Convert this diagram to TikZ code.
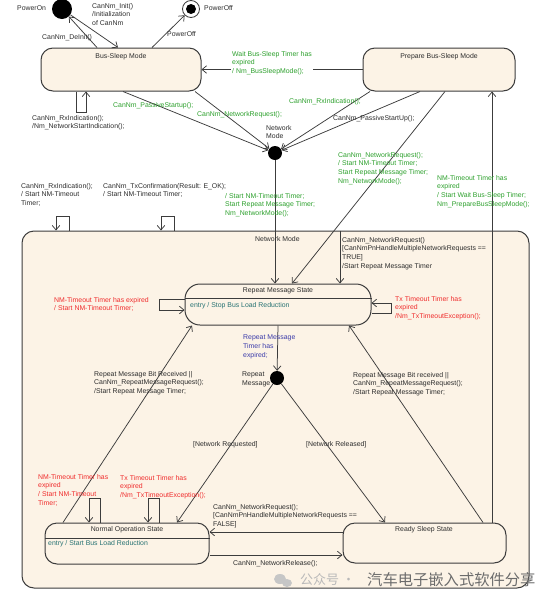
\documentclass[tikz,border=0pt]{standalone}
\usepackage{fontspec}
\setmainfont{Liberation Sans}
\newfontfamily\cjkfont{Noto Sans CJK SC}
\usetikzlibrary{arrows.meta}
\definecolor{gtext}{RGB}{45,160,45}
\definecolor{rtext}{RGB}{240,45,45}
\definecolor{btext}{RGB}{60,60,170}
\definecolor{ttext}{RGB}{40,115,115}
\definecolor{ktext}{RGB}{45,45,45}
\definecolor{boxfill}{RGB}{252,243,230}
\definecolor{lcol}{RGB}{60,60,60}
\tikzset{
  txt/.style={font=\fontsize{6.9}{8.7}\selectfont, text=ktext, inner sep=0pt},
  lbl/.style={txt, align=left, anchor=north west},
  slbl/.style={txt, anchor=west},
  green/.style={text=gtext},
  red/.style={text=rtext},
  blue/.style={text=btext},
  statebox/.style={draw=lcol, line width=1pt, fill=boxfill, rounded corners=12pt, inner sep=0pt},
  conn/.style={draw=lcol, line width=0.75pt, -{Straight Barb[length=4.5pt,width=7.5pt]}},
  junction/.style={circle, fill=black, inner sep=0pt, minimum size=14pt},
}
\begin{document}
\begin{tikzpicture}[x=1pt,y=-1pt]
\useasboundingbox (0,0) rectangle (554,603);
% Network Mode composite
\node[statebox, minimum width=507pt, minimum height=357pt] (nmb) at (275.5,409.5) {};
% states
\node[statebox, minimum width=160pt, minimum height=43pt] (bs) at (121,69.5) {};
\node[statebox, minimum width=152pt, minimum height=43pt] (pbs) at (439,69.5) {};
\node[statebox, rounded corners=15pt, minimum width=186pt, minimum height=41pt] (rms) at (278,304.5) {};
\node[statebox, minimum width=164pt, minimum height=41pt] (nos) at (127,543.5) {};
\node[statebox, minimum width=163pt, minimum height=40pt] (rss) at (424.5,543) {};
\draw[lcol, line width=1pt] ([yshift=6.5pt]rms.west) -- ([yshift=6.5pt]rms.east);
\draw[lcol, line width=1pt] ([yshift=5.5pt]nos.west) -- ([yshift=5.5pt]nos.east);
% pseudo states
\node[circle, fill=black, inner sep=0pt, minimum size=20pt] (po) at (62,9) {};
\node[circle, draw=lcol, line width=0.8pt, fill=white, inner sep=0pt, minimum size=17pt] (pf) at (191,9) {};
\node[circle, fill=black, inner sep=0pt, minimum size=10pt] (pfi) at (pf) {};
\node[junction] (nm) at (275,153) {};
\node[junction] (rj) at (277,378) {};
% connectors top
\draw[conn] (po) -- ([xshift=-3pt]bs.north);
\draw[conn] ([xshift=-24pt]bs.north) -- (po);
\draw[conn] ([xshift=31pt]bs.north) -- (pf);
\draw[conn] (pbs.west) -- (bs.east);
\draw[conn] ([xshift=-45pt]bs.south) -- ++(0,21) -| ([xshift=-35pt]bs.south);
\draw[conn] ([xshift=2pt]bs.south) -- (nm);
\draw[conn] ([xshift=74pt]bs.south) -- (nm);
\draw[conn] ([xshift=-69pt]pbs.south) -- (nm);
\draw[conn] ([xshift=-19pt]pbs.south) -- (nm);
\draw[conn] ([xshift=6pt]pbs.south) -- ([xshift=14pt]rms.north);
\draw[conn] (nm) -- (nm |- rms.north);
\draw[conn] ([xshift=67.5pt]rss.north) -- ([xshift=53pt]pbs.south);
% loops on Network Mode
\draw[conn] ([xshift=-206.5pt]nmb.north) -- ++(0,-14) -| ([xshift=-219.5pt]nmb.north);
\draw[conn] ([xshift=-101.5pt]nmb.north) -- ++(0,-14) -| ([xshift=-114.5pt]nmb.north);
\draw[conn] ([xshift=64.5pt]nmb.north) -- ([xshift=62pt]rms.north);
% loops on Repeat Message State
\draw[conn] ([yshift=5.5pt]rms.west) -- ++(-25,0) |- ([yshift=-5.5pt]rms.west);
\draw[conn] ([yshift=-8.5pt]rms.east) -- ++(20,0) |- ([yshift=1.5pt]rms.east);
\draw[conn] (rms.south) -- (rj);
\draw[conn] (rj) -- ([xshift=50pt]nos.north);
\draw[conn] (rj) -- ([xshift=-39.5pt]rss.north);
\draw[conn] ([xshift=-64pt]nos.north) -- ([xshift=-86pt]rms.south);
\draw[conn] ([xshift=58.5pt]rss.north) -- ([xshift=71pt]rms.south);
% loops on Normal Operation
\draw[conn] ([xshift=-27pt]nos.north) -- ++(0,-24) -| ([xshift=-38pt]nos.north);
\draw[conn] ([xshift=32pt]nos.north) -- ++(0,-24) -| ([xshift=21pt]nos.north);
\draw[conn] ([yshift=11pt]rss.west) -- ([yshift=11.5pt]nos.east);
\draw[conn] ([yshift=-11.5pt]nos.east) -- ([yshift=-12pt]rss.west);
% state titles
\node[txt] (tbs) at (121,57) {Bus-Sleep Mode};
\node[txt] (tpbs) at (439,57) {Prepare Bus-Sleep Mode};
\node[txt] (trms) at (278,291) {Repeat Message State};
\node[txt, text=ttext, anchor=west] (erms) at (190,306) {entry / Stop Bus Load Reduction};
\node[txt] (tnos) at (127,530) {Normal Operation State};
\node[txt, text=ttext, anchor=west] (enos) at (48,544) {entry / Start Bus Load Reduction};
\node[txt] (trss) at (424,530) {Ready Sleep State};
\node[slbl] (tnmb) at (255,239) {Network Mode};
% labels
\node[slbl] (lpo) at (17,8) {PowerOn};
\node[slbl] (lpf) at (204,8) {PowerOff};
\node[lbl] (linit) at (92,3) {CanNm\_Init()\\/Initialization\\of CanNm};
\node[slbl] (ldeinit) at (42,38) {CanNm\_DeInit()};
\node[slbl] (lpoff) at (167,34) {PowerOff};
\node[lbl, green, fill=white, inner sep=1pt] (lwait) at (231,50) {Wait Bus-Sleep Timer has\\expired\\/ Nm\_BusSleepMode();};
\node[lbl] (lbsloop) at (32,115) {CanNm\_RxIndication();\\/Nm\_NetworkStartIndication();};
\node[slbl, green] (lpass) at (113,106) {CanNm\_PassiveStartup();};
\node[slbl, green] (lnreq) at (197,115) {CanNm\_NetworkRequest();};
\node[slbl, green] (lrxi) at (289,102) {CanNm\_RxIndication();};
\node[slbl] (lpassup) at (333,119) {CanNm\_PassiveStartUp();};
\node[lbl] (lnm) at (266,125) {Network\\Mode};
\node[lbl, green] (lpbsrms) at (338,152) {CanNm\_NetworkRequest();\\/ Start NM-Timeout Timer;\\Start Repeat Message Timer;\\Nm\_NetworkMode();};
\node[lbl, green] (lnmrms) at (225,193) {/ Start NM-Timeout Timer;\\Start Repeat Message Timer;\\Nm\_NetworkMode();};
\node[lbl, green] (lnmt) at (437,175) {NM-Timeout Timer has\\expired\\/ Start Wait Bus-Sleep Timer;\\Nm\_PrepareBusSleepMode();};
\node[lbl] (ltl1) at (21,183) {CanNm\_RxIndication();\\/ Start NM-Timeout\\Timer;};
\node[lbl] (ltl2) at (103,183) {CanNm\_TxConfirmation(Result: E\_OK);\\/ Start NM-Timeout Timer;};
\node[lbl] (lnrtrue) at (342,237) {CanNm\_NetworkRequest()\\{[}CanNmPnHandleMultipleNetworkRequests ==\\TRUE{]}\\/Start Repeat Message Timer};
\node[lbl, red] (lrmsl) at (54,297) {NM-Timeout Timer has expired\\/ Start NM-Timeout Timer;};
\node[lbl, red] (lrmsr) at (395,296) {Tx Timeout Timer has\\expired\\/Nm\_TxTimeoutException();};
\node[lbl, blue] (ltexp) at (243,335) {Repeat Message\\Timer has\\expired;};
\node[lbl] (lrepmsg) at (242,372) {Repeat\\Message};
\node[lbl] (lrmbl) at (94,371) {Repeat Message Bit Received ||\\CanNm\_RepeatMessageRequest();\\/Start Repeat Message Timer;};
\node[lbl] (lrmbr) at (353,372) {Repeat Message Bit received ||\\CanNm\_RepeatMessageRequest();\\/Start Repeat Message Timer;};
\node[slbl] (lnreqd) at (193,445) {[Network Requested]};
\node[slbl] (lnrel) at (306,445) {[Network Released]};
\node[lbl, red] (lnos1) at (38,474) {NM-Timeout Timer has\\expired\\/ Start NM-Timeout\\Timer;};
\node[lbl, red] (lnos2) at (120,475) {Tx Timeout Timer has\\expired\\/Nm\_TxTimeoutException();};
\node[lbl] (lnrfalse) at (213,504) {CanNm\_NetworkRequest();\\{[}CanNmPnHandleMultipleNetworkRequests ==\\FALSE{]}};
\node[slbl] (lnrelease) at (233,564) {CanNm\_NetworkRelease();};
% watermark
\fill[gray!45] (280,579) ellipse (6pt and 5pt);
\fill[gray!45] (287,583) ellipse (5pt and 4pt);
\node[anchor=west, inner sep=0pt, font=\cjkfont\fontsize{13}{13}\selectfont, text=gray!55] (wm1) at (300,580) {公众号 ·};
\node[anchor=west, inner sep=0pt, font=\cjkfont\fontsize{15.3}{15.3}\selectfont, text=gray!85!black] (wm2) at (367,580) {汽车电子嵌入式软件分享};
\end{tikzpicture}
\end{document}
